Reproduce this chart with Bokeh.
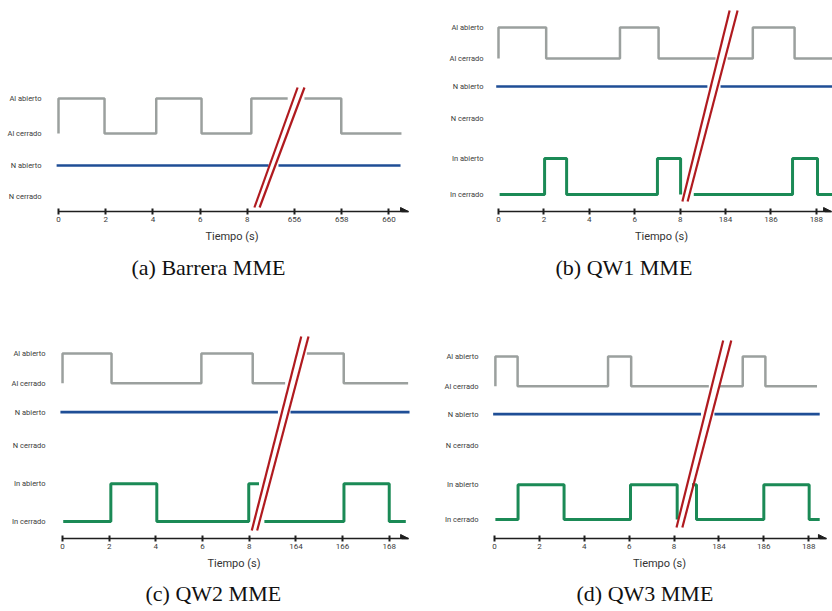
from bokeh.plotting import figure
from bokeh.layouts import column, row
from bokeh.models import Range1d, FixedTicker, Arrow, NormalHead, Title
from bokeh.embed import file_html
from bokeh.resources import INLINE

# ---------------- data (times in seconds, states 1 = abierto, 0 = cerrado) ----------------
TICKS = [0, 2, 4, 6, 8, 10, 12, 14]          # display positions of the tick labels
TICK_LABELS_A = ["0", "2", "4", "6", "8", "656", "658", "660"]
TICK_LABELS_B = ["0", "2", "4", "6", "8", "184", "186", "188"]
TICK_LABELS_C = ["0", "2", "4", "6", "8", "164", "166", "168"]
TICK_LABELS_D = ["0", "2", "4", "6", "8", "184", "186", "188"]

CAPTIONS = ["(a) Barrera MME", "(b) QW1 MME", "(c) QW2 MME", "(d) QW3 MME"]

# (a) Barrera MME
A_AL_L_T = [0, 0, 1.95, 4.14, 6.06, 8.17, 9.71]
A_AL_L_S = [0, 1, 0, 1, 0, 1, 1]
A_AL_R_T = [656.42, 657.98, 660.53]
A_AL_R_S = [1, 0, 0]
A_N_L_T = [-0.08, 8.9]
A_N_L_S = [1, 1]
A_N_R_T = [655.32, 660.49]
A_N_R_S = [1, 1]

# (b) QW1 MME
B_AL_L_T = [0, 0, 2.1, 5.35, 7.05, 9.56]
B_AL_L_S = [0, 1, 0, 1, 0, 0]
B_AL_R_T = [184.09, 185.2, 187.04, 188.7]
B_AL_R_S = [0, 1, 0, 0]
B_N_L_T = [-0.1, 9.2]
B_N_L_S = [1, 1]
B_N_R_T = [183.78, 188.7]
B_N_R_S = [1, 1]
B_IN_L_T = [0.05, 2.03, 3.0, 7.0, 8.02]
B_IN_L_S = [0, 1, 0, 1, 0]
B_IN_R_T = [182.6, 186.95, 188.05, 188.7]
B_IN_R_S = [0, 1, 0, 0]

# (c) QW2 MME
C_AL_L_T = [0, 0, 2.1, 5.95, 8.15, 9.54]
C_AL_L_S = [0, 1, 0, 1, 0, 0]
C_AL_R_T = [164.47, 166.05, 168.81]
C_AL_R_S = [1, 0, 0]
C_N_L_T = [-0.09, 9.23]
C_N_L_S = [1, 1]
C_N_R_T = [163.77, 168.87]
C_N_R_S = [1, 1]
C_IN_L_T = [0.03, 2.07, 4.04, 7.98, 8.42]
C_IN_L_S = [0, 1, 0, 1, 1]
C_IN_R_T = [162.65, 166.06, 168.0, 168.71]
C_IN_R_S = [0, 1, 0, 0]

# (d) QW3 MME
D_AL_L_T = [0.04, 0.04, 1.03, 5.06, 6.09, 9.55]
D_AL_L_S = [0, 1, 0, 1, 0, 0]
D_AL_R_T = [184.04, 185.06, 186.07, 188.37]
D_AL_R_S = [0, 1, 0, 0]
D_N_L_T = [-0.06, 9.2]
D_N_L_S = [1, 1]
D_N_R_T = [183.8, 188.49]
D_N_R_S = [1, 1]
D_IN_L_T = [0.04, 1.05, 3.1, 6.06, 8.14]
D_IN_L_S = [0, 1, 0, 1, 0]
D_IN_R_T = [182.8, 183.0, 186.0, 188.02, 188.49]
D_IN_R_S = [1, 0, 1, 0, 0]

# ---------------- styling / layout ----------------
COLORS = {"Al": "#9ba09e", "N": "#1f4e96", "In": "#1b8a56"}
WIDTHS = {"Al": 2.5, "N": 2.6, "In": 3.0}
BREAK_COLOR = "#b01a1f"
AXIS_COLOR = "#1e1e1e"
LABEL_COLOR = "#3a3a3a"


def make_panel(cfg):
    p = figure(width=416, height=cfg["height"], output_backend="svg", toolbar_location=None,
               x_range=Range1d(*cfg["xr"]), y_range=Range1d(0, cfg["ytop"]),
               min_border_left=cfg["fl"], min_border_right=cfg["br"],
               min_border_top=cfg["bt"], min_border_bottom=cfg["bb"])
    p.outline_line_color = None
    p.grid.visible = False
    p.background_fill_color = "white"
    p.border_fill_color = "white"

    lanes = cfg["lanes"]
    off = cfg["offset"]
    for name, (lt, ls, rt, rs) in cfg["signals"].items():
        hi = lanes[name + " abierto"]
        lo = lanes[name + " cerrado"]
        p.step(list(lt), [hi if s else lo for s in ls], mode="after",
               line_color=COLORS[name], line_width=WIDTHS[name])
        p.step([t - off for t in rt], [hi if s else lo for s in rs], mode="after",
               line_color=COLORS[name], line_width=WIDTHS[name])

    # break marks (double slash)
    for (x0, x1) in cfg["slash_x"]:
        p.segment(x0=[x0], y0=[cfg["slash_y"][0]], x1=[x1], y1=[cfg["slash_y"][1]],
                  line_color=BREAK_COLOR, line_width=2.2)

    # x axis
    ax = p.xaxis[0]
    ax.ticker = FixedTicker(ticks=TICKS, minor_ticks=[])
    ax.major_label_overrides = {t: l for t, l in zip(TICKS, cfg["ticklabels"])}
    ax.bounds = (0, cfg["arrow"])
    ax.axis_line_color = AXIS_COLOR
    ax.axis_line_width = 1.5
    ax.major_tick_line_color = AXIS_COLOR
    ax.major_tick_line_width = 2
    ax.major_tick_in = 3
    ax.major_tick_out = 3
    ax.major_label_standoff = 2
    ax.major_label_text_font = "Roboto"
    ax.major_label_text_font_size = "8px"
    ax.major_label_text_color = LABEL_COLOR
    ax.axis_label = "Tiempo (s)"
    ax.axis_label_standoff = 5
    ax.axis_label_text_font = "Roboto"
    ax.axis_label_text_font_size = "11px"
    ax.axis_label_text_font_style = "normal"
    ax.axis_label_text_color = "#333333"

    p.add_layout(Arrow(end=NormalHead(size=8, fill_color=AXIS_COLOR, line_color=AXIS_COLOR),
                       x_start=cfg["arrow"] - 0.3, y_start=0, x_end=cfg["arrow"], y_end=0,
                       line_color=AXIS_COLOR, line_width=1.5))

    # y axis with lane names
    ay = p.yaxis[0]
    names = list(lanes.keys())
    ay.ticker = FixedTicker(ticks=[lanes[n] for n in names], minor_ticks=[])
    ay.major_label_overrides = {lanes[n]: n for n in names}
    ay.axis_line_color = None
    ay.major_tick_line_color = None
    ay.major_tick_out = 0
    ay.major_tick_in = 0
    ay.major_label_standoff = cfg["ystand"]
    ay.major_label_text_font = "Roboto"
    ay.major_label_text_font_size = "7.5px"
    ay.major_label_text_color = LABEL_COLOR

    p.add_layout(Title(text=cfg["caption"], align="left", offset=cfg["capoff"],
                       standoff=cfg["capstand"],
                       text_font="Liberation Serif", text_font_size="22px",
                       text_font_style="normal", text_color="#111111"), "below")
    return p


panels = [
    dict(caption=CAPTIONS[0], height=305, xr=(-0.339, 15.04), ytop=206, fl=50, br=3, bt=5, bb=94,
         offset=646, ticklabels=TICK_LABELS_A, arrow=14.83, ystand=9, capoff=81, capstand=14,
         lanes={"Al abierto": 113, "Al cerrado": 78, "N abierto": 46, "N cerrado": 15},
         signals={"Al": (A_AL_L_T, A_AL_L_S, A_AL_R_T, A_AL_R_S),
                  "N": (A_N_L_T, A_N_L_S, A_N_R_T, A_N_R_S)},
         slash_x=[(8.3, 10.13), (8.52, 10.42)], slash_y=(4, 124)),
    dict(caption=CAPTIONS[1], height=305, xr=(-0.352, 14.71), ytop=206, fl=74, br=0, bt=5, bb=94,
         offset=174, ticklabels=TICK_LABELS_B, arrow=14.67, ystand=7, capoff=65, capstand=14,
         lanes={"Al abierto": 184, "Al cerrado": 153, "N abierto": 125, "N cerrado": 93,
                "In abierto": 53, "In cerrado": 17},
         signals={"Al": (B_AL_L_T, B_AL_L_S, B_AL_R_T, B_AL_R_S),
                  "N": (B_N_L_T, B_N_L_S, B_N_R_T, B_N_R_S),
                  "In": (B_IN_L_T, B_IN_L_S, B_IN_R_T, B_IN_R_S)},
         slash_x=[(8.1, 10.18), (8.33, 10.53)], slash_y=(10, 201)),
    dict(caption=CAPTIONS[2], height=306, xr=(-0.344, 15.04), ytop=209, fl=54, br=3, bt=25, bb=72,
         offset=154, ticklabels=TICK_LABELS_C, arrow=14.83, ystand=9, capoff=91, capstand=12,
         lanes={"Al abierto": 186, "Al cerrado": 156, "N abierto": 127, "N cerrado": 93,
                "In abierto": 55, "In cerrado": 17},
         signals={"Al": (C_AL_L_T, C_AL_L_S, C_AL_R_T, C_AL_R_S),
                  "N": (C_N_L_T, C_N_L_S, C_N_R_T, C_N_R_S),
                  "In": (C_IN_L_T, C_IN_L_S, C_IN_R_T, C_IN_R_S)},
         slash_x=[(8.11, 10.23), (8.34, 10.54)], slash_y=(8, 203)),
    dict(caption=CAPTIONS[3], height=306, xr=(-0.356, 15.06), ytop=209, fl=70, br=0, bt=25, bb=72,
         offset=174, ticklabels=TICK_LABELS_D, arrow=14.79, ystand=8, capoff=90, capstand=12,
         lanes={"Al abierto": 183, "Al cerrado": 153, "N abierto": 125, "N cerrado": 93,
                "In abierto": 54, "In cerrado": 19},
         signals={"Al": (D_AL_L_T, D_AL_L_S, D_AL_R_T, D_AL_R_S),
                  "N": (D_N_L_T, D_N_L_S, D_N_R_T, D_N_R_S),
                  "In": (D_IN_L_T, D_IN_L_S, D_IN_R_T, D_IN_R_S)},
         slash_x=[(8.11, 10.19), (8.37, 10.55)], slash_y=(11, 199)),
]

figs = [make_panel(c) for c in panels]
layout = column(row(figs[0], figs[1]), row(figs[2], figs[3]))

open("out.html", "w").write(file_html(layout, INLINE))
